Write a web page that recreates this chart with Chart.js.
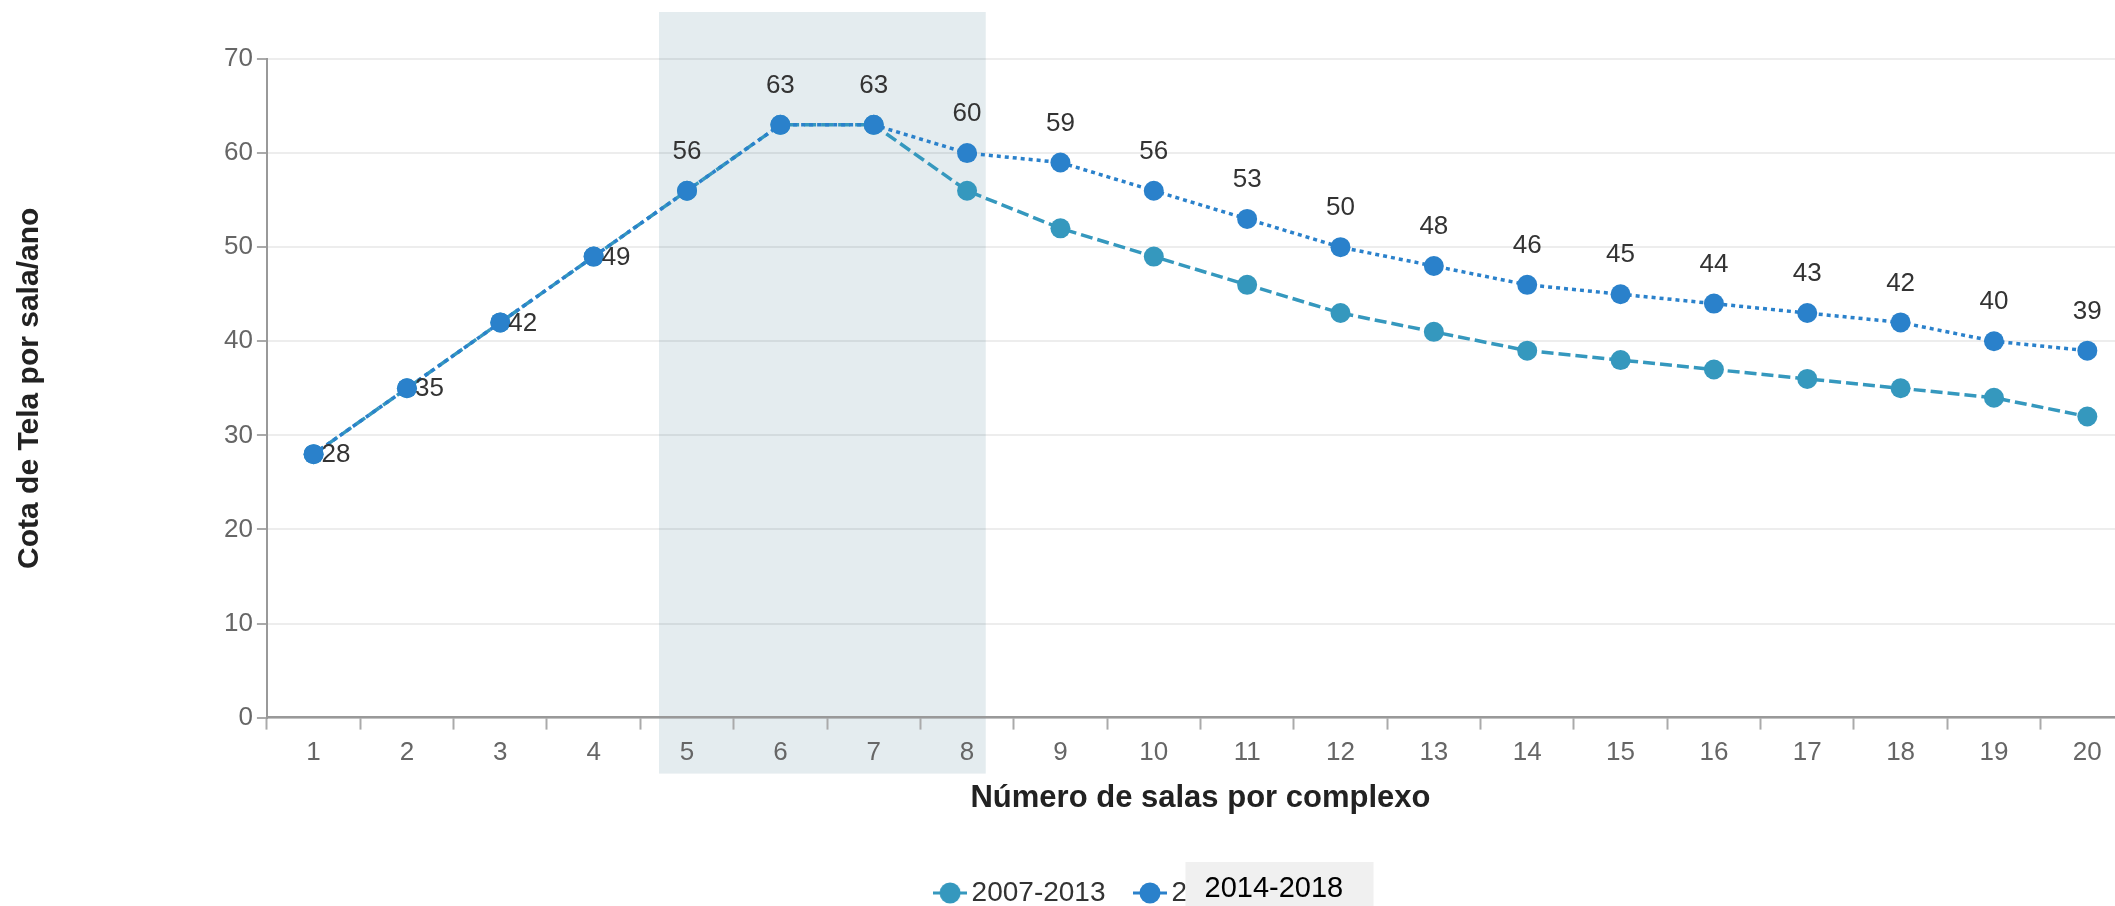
<!DOCTYPE html>
<html>
<head>
<meta charset="utf-8">
<script src="https://cdn.jsdelivr.net/npm/chart.js@4.4.1/dist/chart.umd.min.js"></script>
<style>
	html, body { margin: 0; padding: 0; overflow: hidden; background: #fff; }
	#wrap { position: relative; width: 2148px; height: 917px; }
</style>
</head>
<body>
<div id="wrap"><canvas id="salas-chart"></canvas></div>
<script>
var categories = ['1', '2', '3', '4', '5', '6', '7', '8', '9', '10', '11', '12', '13', '14', '15', '16', '17', '18', '19', '20'];
var series2007 = [28, 35, 42, 49, 56, 63, 63, 56, 52, 49, 46, 43, 41, 39, 38, 37, 36, 35, 34, 32];
var series2014 = [28, 35, 42, 49, 56, 63, 63, 60, 59, 56, 53, 50, 48, 46, 45, 44, 43, 42, 40, 39];
var yTicks = [0, 10, 20, 30, 40, 50, 60, 70];
var bandFrom = 4.7, bandTo = 8.2;	// highlighted range, in "salas"

var FONT = '"Liberation Sans", Arial, sans-serif';
var colTeal = '#3598be';
var colBlue = '#2a81cb';

Chart.defaults.font.family = FONT;

// legend symbol: short line with a dot, like the original
function legendIcon(color) {
	var c = document.createElement('canvas');
	c.width = 34; c.height = 24;
	var g = c.getContext('2d');
	g.strokeStyle = color; g.lineWidth = 3;
	g.beginPath(); g.moveTo(0, 12); g.lineTo(34, 12); g.stroke();
	g.fillStyle = color;
	g.beginPath(); g.arc(17, 12, 10.5, 0, Math.PI * 2); g.fill();
	return c;
}
var icons = [legendIcon(colBlue), legendIcon(colTeal)];

var bandPlugin = {
	id: 'band',
	beforeDraw: function(chart) {
		var x = chart.scales.x, a = chart.chartArea, ctx = chart.ctx;
		var x0 = x.getPixelForValue(bandFrom - 1), x1 = x.getPixelForValue(bandTo - 1);
		ctx.save();
		ctx.fillStyle = '#e4ecef';
		ctx.fillRect(x0, a.top - 47, x1 - x0, a.bottom - a.top + 103);
		ctx.restore();
	}
};

var valueLabels = {
	id: 'valueLabels',
	afterDatasetsDraw: function(chart) {
		var ctx = chart.ctx, meta = chart.getDatasetMeta(0);
		ctx.save();
		ctx.font = '26px ' + FONT;
		ctx.fillStyle = '#333333';
		ctx.textBaseline = 'middle';
		meta.data.forEach(function(pt, i) {
			if (i < 4) {
				ctx.textAlign = 'left';
				ctx.fillText(series2014[i], pt.x + 8, pt.y + 1);
			} else {
				ctx.textAlign = 'center';
				ctx.fillText(series2014[i], pt.x, pt.y - 39);
			}
		});
		ctx.restore();
	}
};

// hover box sitting over the second legend entry
var hoverBox = {
	id: 'hoverBox',
	afterDraw: function(chart) {
		var lg = chart.legend, hb = lg.legendHitBoxes[1];
		if (!hb) return;
		var ctx = chart.ctx;
		var textX = hb.left + 15 + 14;
		var cy = hb.top + 14;
		ctx.save();
		ctx.fillStyle = '#f0f0f0';
		ctx.fillRect(textX + 14, cy - 31, 188, 70);
		ctx.fillStyle = '#000';
		ctx.font = '29px ' + FONT;
		ctx.textBaseline = 'middle';
		ctx.textAlign = 'left';
		ctx.fillText('2014-2018', textX + 33, cy - 4);
		ctx.restore();
	}
};

var ctx = document.getElementById('salas-chart').getContext('2d');
var myChart = new Chart(ctx, {
	type: 'line',
	data: {
		labels: categories,
		datasets: [
			{
				label: '2014-2018',
				data: series2014,
				borderColor: colBlue,
				backgroundColor: colBlue,
				pointBackgroundColor: colBlue,
				borderWidth: 3.5,
				borderDash: [4, 4],
				pointRadius: 10,
				pointBorderWidth: 0,
				tension: 0
			},
			{
				label: '2007-2013',
				data: series2007,
				borderColor: colTeal,
				backgroundColor: colTeal,
				pointBackgroundColor: colTeal,
				borderWidth: 3.5,
				borderDash: [12, 5],
				pointRadius: 10,
				pointBorderWidth: 0,
				tension: 0
			}
		]
	},
	options: {
		responsive: true,
		maintainAspectRatio: false,
		animation: false,
		events: [],
		// left padding pushes the (centred) legend to where the original had it
		layout: { padding: { top: 59, left: 114, right: 14, bottom: 0 } },
		scales: {
			x: {
				offset: true,
				grid: { offset: true, drawOnChartArea: false, tickLength: 12, tickColor: '#aaaaaa', tickWidth: 2 },
				border: { color: '#999999', width: 2.5 },
				ticks: { color: '#666666', font: { size: 26 }, padding: 8, maxRotation: 0, autoSkip: false },
				title: {
					display: true,
					text: 'Número de salas por complexo',
					color: '#222222',
					font: { size: 31, weight: 'bold' },
					padding: { top: 3, bottom: 25 }
				}
			},
			y: {
				min: yTicks[0],
				max: yTicks[yTicks.length - 1],
				afterBuildTicks: function(axis) {
					axis.ticks = yTicks.map(function(v) { return { value: v }; });
				},
				grid: { color: 'rgba(0,0,0,0.07)', lineWidth: 2, tickLength: 10, tickColor: '#aaaaaa', tickWidth: 2 },
				border: { color: '#999999', width: 2 },
				ticks: { color: '#666666', font: { size: 26 }, padding: 4 },
				title: {
					display: true,
					text: 'Cota de Tela por sala/ano',
					color: '#222222',
					font: { size: 30, weight: 'bold' },
					padding: { top: -102, bottom: 172 }
				}
			}
		},
		plugins: {
			legend: {
				position: 'bottom',
				reverse: true,
				labels: {
					usePointStyle: true,
					boxWidth: 15,
					boxHeight: 15,
					padding: 37,
					color: '#333333',
					font: { size: 28 },
					generateLabels: function(chart) {
						var items = Chart.defaults.plugins.legend.labels.generateLabels(chart);
						items.forEach(function(it) { it.pointStyle = icons[it.datasetIndex]; });
						return items;
					}
				}
			},
			tooltip: { enabled: false }
		}
	},
	plugins: [bandPlugin, valueLabels, hoverBox]
});
</script>
</body>
</html>
